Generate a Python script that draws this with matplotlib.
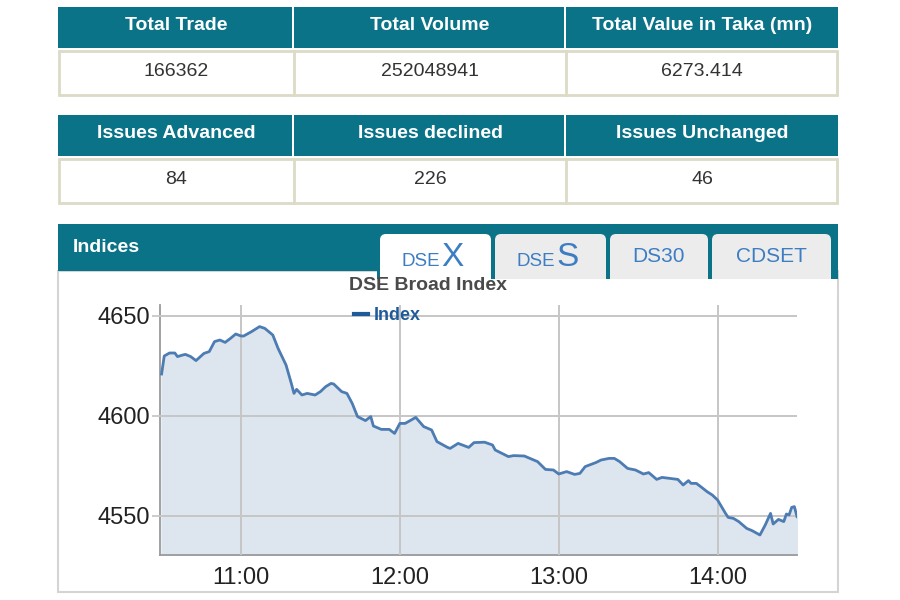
"""
DSE market summary screenshot: two summary tables plus the DSEX intraday chart
"""
import matplotlib.pyplot as plt
from matplotlib.patches import Rectangle, FancyBboxPatch

plt.rcParams['font.family'] = ['Liberation Sans', 'DejaVu Sans']

# ---- data ----
trade_headers = ["Total Trade", "Total Volume", "Total Value in Taka (mn)"]
trade_values = ["166362", "252048941", "6273.414"]
issue_headers = ["Issues Advanced", "Issues declined", "Issues Unchanged"]
issue_values = ["84", "226", "46"]
panel_title = "Indices"
tab_small = ["DSE", "DSE", "DS30", "CDSET"]
tab_big = ["X", "S", "", ""]
chart_title = "DSE Broad Index"
series_name = "Index"

times = ["10:30", "10:31", "10:33", "10:35", "10:36", "10:38", "10:39", "10:41",
         "10:43", "10:46", "10:48", "10:50", "10:52", "10:54", "10:56", "10:58",
         "11:00", "11:01", "11:04", "11:07", "11:09", "11:12", "11:14", "11:17",
         "11:19", "11:20", "11:21", "11:23", "11:25", "11:28", "11:30", "11:32",
         "11:34", "11:35", "11:38", "11:40", "11:42", "11:44", "11:47", "11:49",
         "11:50", "11:53", "11:56", "11:58", "12:00", "12:02", "12:06", "12:09",
         "12:12", "12:14", "12:18", "12:19", "12:22", "12:26", "12:28", "12:32",
         "12:35", "12:36", "12:41", "12:43", "12:47", "12:52", "12:55", "12:58",
         "13:00", "13:03", "13:06", "13:08", "13:10", "13:14", "13:16", "13:19",
         "13:21", "13:23", "13:26", "13:29", "13:32", "13:34", "13:37", "13:39",
         "13:45", "13:47", "13:49", "13:50", "13:52", "13:54", "13:56", "13:58",
         "14:00", "14:03", "14:04", "14:06", "14:08", "14:11", "14:13", "14:16",
         "14:18", "14:20", "14:21", "14:23", "14:25", "14:26", "14:27", "14:28",
         "14:29", "14:30"]
index_values = [4621.0, 4630.0, 4631.5, 4631.5, 4629.7, 4630.5, 4630.8, 4629.7,
                4627.7, 4631.3, 4632.2, 4637.2, 4638.0, 4636.8, 4638.8, 4641.0,
                4640.0, 4640.0, 4642.2, 4644.7, 4643.8, 4640.5, 4633.8, 4625.5,
                4616.3, 4611.3, 4613.3, 4610.5, 4611.3, 4610.5, 4612.2, 4614.7,
                4616.3, 4616.0, 4612.2, 4611.3, 4606.3, 4599.7, 4597.7, 4599.7,
                4595.0, 4593.3, 4593.3, 4591.3, 4596.3, 4596.3, 4599.3, 4594.7,
                4593.0, 4587.2, 4584.3, 4583.8, 4586.3, 4584.3, 4586.7, 4586.9,
                4585.5, 4583.0, 4579.7, 4580.2, 4580.0, 4577.2, 4573.3, 4573.0,
                4571.0, 4572.2, 4570.8, 4571.3, 4574.7, 4576.7, 4578.0, 4578.8,
                4578.8, 4577.2, 4573.8, 4573.0, 4571.0, 4571.7, 4568.3, 4569.3,
                4568.3, 4565.5, 4567.7, 4566.3, 4566.3, 4564.3, 4562.2, 4560.5,
                4558.0, 4551.3, 4549.3, 4548.8, 4547.2, 4543.8, 4542.7, 4540.5,
                4545.5, 4551.3, 4546.0, 4548.3, 4547.2, 4551.0, 4550.5, 4554.3,
                4554.7, 4549.7]
y_ticks = [4550, 4600, 4650]
x_tick_labels = ["11:00", "12:00", "13:00", "14:00"]


def to_hours(t):
    h, m = t.split(":")
    return int(h) + int(m) / 60


hours = [to_hours(t) for t in times]
x_ticks = [to_hours(t) for t in x_tick_labels]

TEAL = "#0b7388"
BEIGE = "#dcdbc6"
TAB_BLUE = "#3c7dc3"
TEXT = "#333333"

fig = plt.figure(figsize=(9, 6), dpi=100)
fig.patch.set_facecolor("white")

# background layer in pixel coordinates (y down)
bg = fig.add_axes([0, 0, 1, 1])
bg.set_xlim(0, 900)
bg.set_ylim(600, 0)
bg.axis("off")

col_edges = [58, 294, 566, 838]


def draw_table(y_head, headers, values):
    for i in range(3):
        x0, x1 = col_edges[i], col_edges[i + 1]
        w = x1 - x0 - (2 if i < 2 else 0)
        bg.add_patch(Rectangle((x0, y_head), w, 41, facecolor=TEAL, edgecolor="none"))
        bg.text((x0 + x1) / 2, y_head + 18, headers[i], color="white", fontsize=14,
                fontweight="bold", ha="center", va="center")
        bg.text((x0 + x1) / 2, y_head + 65, values[i], color=TEXT, fontsize=14,
                ha="center", va="center")
    bg.add_patch(Rectangle((59, y_head + 44), 778, 44, facecolor="white",
                           edgecolor=BEIGE, lw=2))
    for x in col_edges[1:3]:
        bg.plot([x, x], [y_head + 44, y_head + 88], color=BEIGE, lw=2)


draw_table(7, trade_headers, trade_values)
draw_table(115, issue_headers, issue_values)

# chart panel
bg.add_patch(Rectangle((58, 271), 780, 321, facecolor="white", edgecolor="#d4d4d4",
                       lw=1.5, zorder=1))
bg.add_patch(Rectangle((58, 224), 780, 47, facecolor=TEAL, edgecolor="none", zorder=2))
bg.add_patch(Rectangle((377, 224), 461, 55, facecolor=TEAL, edgecolor="none", zorder=2))
bg.text(73, 248, panel_title, color="white", fontsize=14, fontweight="bold",
        ha="left", va="center", zorder=3)

tab_edges = [(380, 491), (495, 606), (610, 708), (712, 831)]
for i, (x0, x1) in enumerate(tab_edges):
    active = i == 0
    face = "white" if active else "#ececec"
    bottom = 292 if active else 290
    bg.add_patch(FancyBboxPatch((x0, 234), x1 - x0, bottom - 234,
                                boxstyle="round,pad=0,rounding_size=6",
                                facecolor=face, edgecolor="none",
                                zorder=5 if active else 3))
    cx = (x0 + x1) / 2
    if tab_big[i]:
        bg.text(cx + 5, 266, tab_small[i], color=TAB_BLUE, fontsize=13.5,
                ha="right", va="baseline", zorder=6)
        bg.text(cx + 6, 266, tab_big[i], color=TAB_BLUE, fontsize=24,
                ha="left", va="baseline", zorder=6)
    else:
        bg.text(cx, 256, tab_small[i], color=TAB_BLUE, fontsize=15,
                ha="center", va="center", zorder=6)
# white panel below inactive tabs
bg.add_patch(Rectangle((377, 279), 460, 14, facecolor="white", edgecolor="none", zorder=4))
bg.text(428, 286, chart_title, color="#4a4a4a", fontsize=14, fontweight="bold",
        ha="center", va="center", zorder=7)

# the index chart
ax = fig.add_axes([160 / 900, 45 / 600, 637 / 900, 250 / 600])
ax.set_facecolor("white")
ymin = 4530.5
ax.fill_between(hours, index_values, ymin, color="#dde5ef", zorder=1)
ax.plot(hours, index_values, color="#4d7cb3", lw=2, zorder=3, label=series_name)
ax.set_xlim(10.49, 14.5)
ax.set_ylim(ymin, 4655.5)

ax.set_xticks(x_ticks)
ax.set_xticklabels(x_tick_labels)
ax.set_yticks(y_ticks)
ax.tick_params(axis="x", length=0, pad=9, labelsize=17, labelcolor="#222222")
ax.tick_params(axis="y", length=6, width=1.3, color="#c8c8c8", pad=1,
               labelsize=17, labelcolor="#222222")
ax.grid(True, color="#c6c6c6", lw=1.4, zorder=2)
ax.set_axisbelow(False)
for s in ["top", "right"]:
    ax.spines[s].set_visible(False)
for s in ["left", "bottom"]:
    ax.spines[s].set_color("#9a9a9a")
    ax.spines[s].set_linewidth(1.3)

leg = ax.legend(loc="center left", bbox_to_anchor=(345 / 900, 1 - 316 / 600),
                bbox_transform=fig.transFigure, frameon=False, handlelength=0.8,
                handletextpad=0.3, borderpad=0, prop={"weight": "bold", "size": 13})
for t in leg.get_texts():
    t.set_color("#1f5b9a")
for ln in leg.get_lines():
    ln.set_color("#1f5b9a")
    ln.set_linewidth(3)

fig.savefig("out.png", dpi=100)
